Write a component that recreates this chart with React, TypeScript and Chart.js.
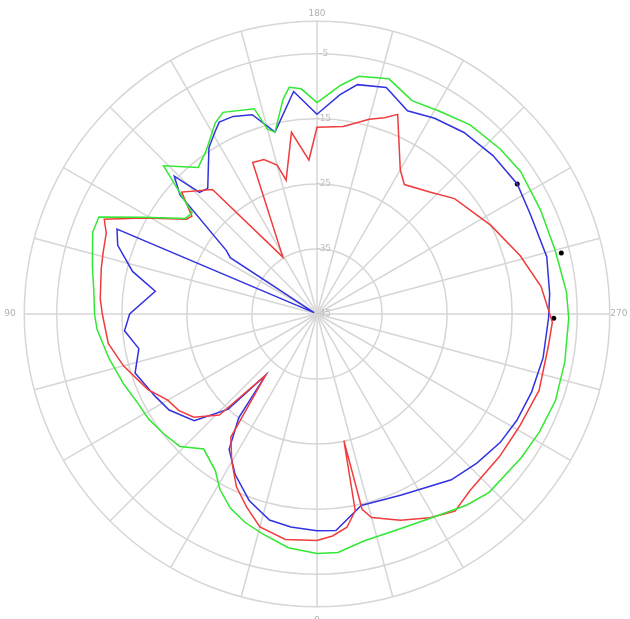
import { useEffect, useRef } from 'react';
import { Chart, registerables } from 'chart.js';

Chart.register(...registerables);

// Angle labels shown around the rim (degrees)
const angleTickLabels = ['0', '90', '180', '270'];
// Radial tick values (dB)
const radialTicks = [-45, -35, -25, -15, -5, 0];

// Green trace: azimuth (deg) and level (dB)
const greenAngles = [0, 7, 14, 19, 24, 29, 33, 40, 46, 52, 58, 64, 70, 78, 86, 90, 96, 102, 110, 114, 119, 126, 129, 134, 141, 146, 152, 155, 163, 165, 167, 171, 173, 176, 180, 186, 190, 197, 204, 211, 219, 228, 235, 245, 255, 265, 271, 281, 290, 298, 305, 316, 322, 331, 339, 348, 355];
const greenValues = [-8.2, -8.8, -10.2, -11.1, -12.3, -14.2, -16.3, -17.9, -15.7, -15.1, -14.5, -14.2, -13.4, -12.3, -11.1, -10.8, -10.5, -9.7, -8.3, -8.3, -14.3, -20.0, -20.3, -12.2, -16.0, -14.6, -11.7, -10.8, -12.0, -15.6, -16.3, -11.6, -9.9, -10.3, -12.5, -9.6, -7.9, -7.2, -9.1, -8.6, -7.6, -7.1, -6.8, -7.1, -7.1, -6.5, -6.3, -6.2, -6.0, -6.3, -6.6, -6.9, -7.7, -9.1, -9.6, -9.4, -8.2];

// Blue trace
const blueAngles = [0, 7, 13, 20, 27, 33, 37, 40, 43, 49, 57, 63, 72, 79, 85, 90, 98, 103, 109, 113, 115, 123, 125, 131, 134, 136, 139, 147, 151, 153, 157, 162, 167, 174, 180, 186, 190, 197, 204, 211, 219, 228, 237, 245, 256, 265, 271, 281, 290, 298, 305, 313, 321, 335, 347, 355];
const blueValues = [-11.7, -12.0, -12.5, -14.5, -17.3, -20.2, -25.0, -32.7, -25.0, -20.0, -17.9, -17.1, -15.6, -17.1, -15.3, -16.2, -19.9, -15.9, -12.6, -11.6, -44.5, -29.1, -28.0, -17.1, -14.5, -19.0, -19.4, -14.5, -12.8, -11.9, -12.0, -12.8, -16.3, -10.6, -14.3, -11.1, -9.2, -8.6, -10.8, -9.9, -9.1, -8.6, -8.3, -8.8, -8.6, -9.1, -9.4, -9.6, -9.9, -10.2, -10.6, -11.4, -12.2, -14.3, -14.8, -11.6];

// Red trace
const redAngles = [0, 8, 15, 20, 25, 30, 35, 40, 44, 50, 55, 60, 66, 75, 82, 90, 94, 102, 106, 111, 114, 119, 126, 128, 132, 140, 149, 157, 161, 165, 167, 172, 177, 180, 188, 195, 199, 202, 210, 214, 223, 230, 243, 254, 263, 272, 278, 289, 299, 308, 319, 325, 331, 338, 345, 347, 348, 349, 352, 356];
const redValues = [-10.2, -10.0, -11.1, -13.4, -15.7, -18.8, -21.9, -32.7, -23.4, -20.3, -19.1, -18.5, -16.5, -14.2, -12.6, -12.0, -11.6, -11.1, -10.8, -10.3, -9.2, -14.6, -20.2, -20.6, -17.0, -20.0, -34.8, -19.7, -19.9, -21.3, -23.9, -16.8, -21.3, -16.3, -15.9, -14.0, -13.1, -11.9, -19.4, -21.0, -19.4, -17.4, -15.0, -12.5, -10.3, -8.8, -9.1, -8.9, -9.4, -9.4, -9.1, -8.0, -9.2, -10.8, -12.6, -14.2, -25.1, -14.2, -11.9, -10.8];

// Marker points
const dotAngles = [237, 256, 271];
const dotValues = [-8.3, -6.3, -8.6];

// The rim starts at 180 at the top and runs clockwise
const START_DEG = 180;
const azimuthLabels = Array.from({ length: 360 }, (_, i) => String((START_DEG + i) % 360));

function toSeries(angles: number[], values: number[]): (number | null)[] {
  const out: (number | null)[] = new Array(360).fill(null);
  angles.forEach((a, k) => {
    out[(((a - START_DEG) % 360) + 360) % 360] = values[k];
  });
  return out;
}

// Rim label gap: the top label also receives the tick backdrop offset,
// and the right-hand label is pulled in onto the rim.
function pointLabelPadding(ctx: any): number {
  if (ctx.index === 0) return -4.5;
  if (ctx.index === 90) return -6;
  return 2;
}

export default function App() {
  const canvasRef = useRef<HTMLCanvasElement | null>(null);

  useEffect(() => {
    if (!canvasRef.current) return;
    const trace = (label: string, angles: number[], values: number[], color: string) => ({
      label,
      data: toSeries(angles, values),
      borderColor: color,
      backgroundColor: color,
      borderWidth: 1.5,
      pointRadius: 0,
      fill: false,
      spanGaps: true,
      tension: 0,
    });
    const chart = new Chart(canvasRef.current, {
      type: 'radar',
      data: {
        labels: azimuthLabels,
        datasets: [
          trace('green', greenAngles, greenValues, 'rgb(50,232,50)'),
          trace('red', redAngles, redValues, 'rgb(240,60,60)'),
          trace('blue', blueAngles, blueValues, 'rgb(50,50,225)'),
          {
            label: 'markers',
            data: toSeries(dotAngles, dotValues),
            showLine: false,
            borderWidth: 0,
            pointRadius: 2.5,
            pointBackgroundColor: '#000',
            pointBorderColor: '#000',
            backgroundColor: '#000',
            borderColor: '#000',
            fill: false,
          } as any,
        ],
      },
      options: {
        animation: false,
        responsive: true,
        maintainAspectRatio: false,
        plugins: { legend: { display: false }, tooltip: { enabled: false } },
        elements: { line: { tension: 0 } },
        scales: {
          r: {
            min: -45,
            max: 0,
            startAngle: 0,
            afterBuildTicks: (axis: any) => {
              axis.ticks = radialTicks.map((v) => ({ value: v }));
            },
            grid: { circular: true, color: '#d6d6d6', lineWidth: 1.5 },
            angleLines: {
              display: true,
              color: '#d6d6d6',
              lineWidth: (ctx: any) => (ctx.index % 15 === 0 ? 1.5 : 0),
            },
            ticks: {
              showLabelBackdrop: false,
              color: '#bdbdbd',
              font: { size: 9, family: 'DejaVu Sans' },
              callback: (v: any) => (v === 0 ? '' : '\u2002\u2002\u2002' + v),
            },
            pointLabels: {
              padding: pointLabelPadding,
              color: '#b0b0b0',
              font: { size: 9, family: 'DejaVu Sans' },
              callback: (label: string) => (angleTickLabels.includes(label) ? label : ''),
            },
          },
        },
      } as any,
    });
    return () => chart.destroy();
  }, []);

  return (
    <div style={{ position: 'fixed', left: 0, top: 0, width: 630, height: 619, overflow: 'hidden', background: '#fff' }}>
      <div style={{ position: 'absolute', left: -23, top: 2, width: 680, height: 625 }}>
        <canvas ref={canvasRef} />
      </div>
    </div>
  );
}
